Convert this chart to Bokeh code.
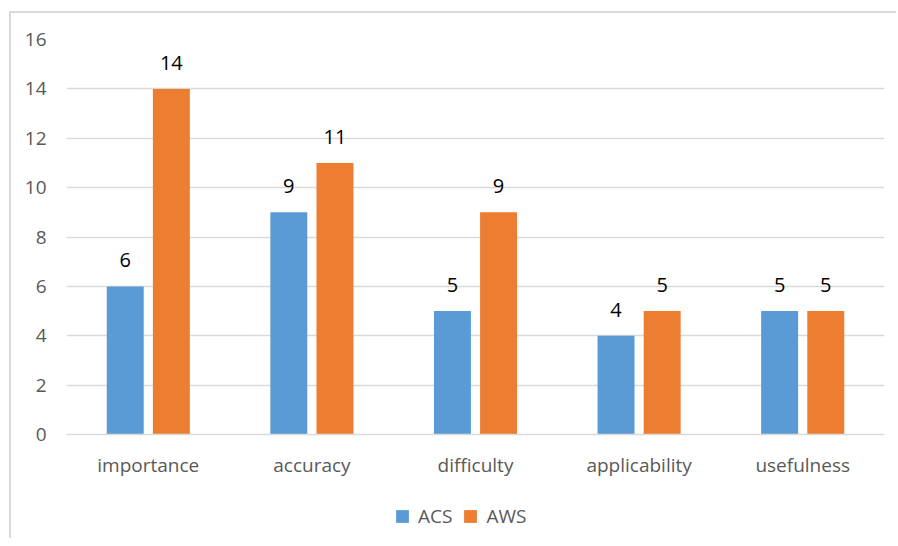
from bokeh.plotting import figure
from bokeh.layouts import column
from bokeh.models import ColumnDataSource, FactorRange, Range1d, LabelSet, Legend, LegendItem, FixedTicker
from bokeh.core.properties import value
from bokeh.transform import dodge
from bokeh.embed import file_html
from bokeh.resources import INLINE

categories = ["importance", "accuracy", "difficulty", "applicability", "usefulness"]
acs = [6, 9, 5, 4, 5]
aws = [14, 11, 9, 5, 5]
series_names = ["ACS", "AWS"]
y_ticks = [0, 2, 4, 6, 8, 10, 12, 14, 16]

src = ColumnDataSource(dict(cat=categories, acs=acs, aws=aws,
                            acs_lbl=[str(v) for v in acs], aws_lbl=[str(v) for v in aws]))

FONT = "Open Sans"
GRID = "#d9d9d9"
C_ACS = "#5b9bd5"
C_AWS = "#ed7d31"

p = figure(x_range=FactorRange(*categories, range_padding=0), y_range=Range1d(0, 16),
           width=885, height=467, output_backend="svg", toolbar_location=None,
           min_border_left=55, min_border_right=12, min_border_top=26, min_border_bottom=46)
p.outline_line_color = None
p.background_fill_color = "white"
p.border_fill_color = "white"

r1 = p.vbar(x=dodge("cat", -0.141, range=p.x_range), top="acs", width=0.226, source=src,
            fill_color=C_ACS, line_color=None)
r2 = p.vbar(x=dodge("cat", 0.141, range=p.x_range), top="aws", width=0.226, source=src,
            fill_color=C_AWS, line_color=None)

for col, off in (("acs", -0.141), ("aws", 0.141)):
    lab = LabelSet(x=dodge("cat", off, range=p.x_range), y=col, text=col + "_lbl", source=src,
                   text_align="center", text_baseline="alphabetic", y_offset=19,
                   text_font=value(FONT), text_font_size="20px", text_color="#000000")
    p.add_layout(lab)

p.xgrid.grid_line_color = None
p.ygrid.grid_line_color = GRID
p.ygrid.grid_line_width = 1.5
p.yaxis.ticker = FixedTicker(ticks=y_ticks)

for ax in (p.xaxis, p.yaxis):
    ax.major_tick_line_color = None
    ax.minor_tick_line_color = None
    ax.major_label_text_font = FONT
    ax.major_label_text_font_size = "19px"
    ax.major_label_text_color = "#595959"
p.yaxis.axis_line_color = None
p.yaxis.major_label_standoff = 14
p.xaxis.axis_line_color = GRID
p.xaxis.axis_line_width = 1.5
p.xaxis.major_label_standoff = 11

# legend strip below the chart (legend-only renderers of zero height)
p2 = figure(x_range=Range1d(0, 1), y_range=Range1d(0, 1), width=885, height=58,
            output_backend="svg", toolbar_location=None,
            min_border_left=0, min_border_right=0, min_border_top=0, min_border_bottom=0)
p2.axis.visible = False
p2.grid.visible = False
p2.outline_line_color = None
lr1 = p2.vbar(x=[0.5], bottom=[0.5], top=[0.5], width=0.0, fill_color=C_ACS, line_color=None)
lr2 = p2.vbar(x=[0.5], bottom=[0.5], top=[0.5], width=0.0, fill_color=C_AWS, line_color=None)
legend = Legend(items=[LegendItem(label=series_names[0], renderers=[lr1]),
                       LegendItem(label=series_names[1], renderers=[lr2])],
                orientation="horizontal", location=(328, 9),
                label_text_font=FONT, label_text_font_size="19px", label_text_color="#595959",
                glyph_width=16, glyph_height=16, label_standoff=8, spacing=10,
                border_line_color=None, background_fill_alpha=0, padding=4, margin=0)
p2.add_layout(legend)

layout = column(p, p2, spacing=0,
                styles={"border-left": "2px solid #d9d9d9", "border-top": "2px solid #d9d9d9",
                        "margin-left": "9px", "margin-top": "11px"})
open("out.html", "w").write(file_html(layout, INLINE))
